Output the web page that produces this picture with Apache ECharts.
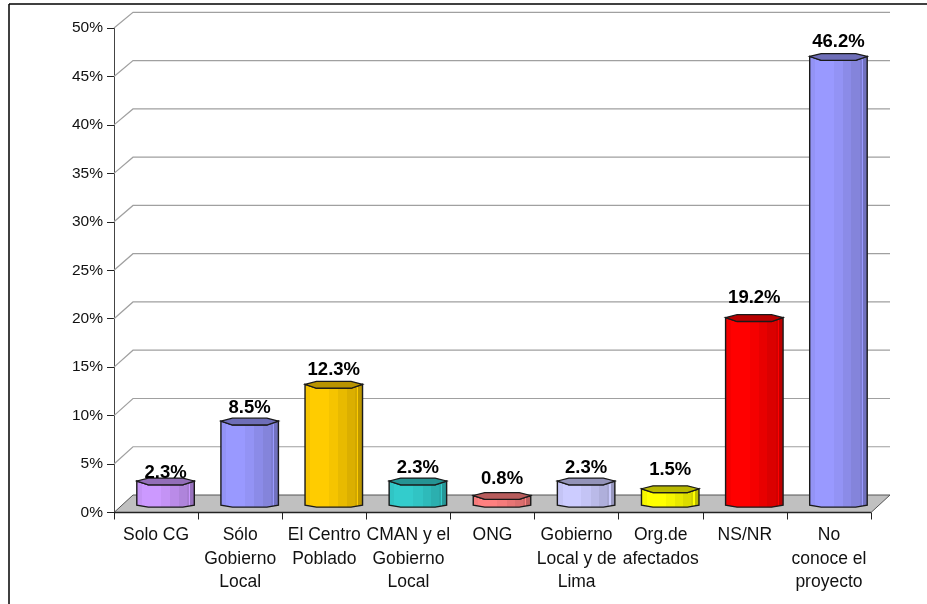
<!DOCTYPE html>
<html><head><meta charset="utf-8">
<style>html,body{margin:0;padding:0;background:#fff}#c{width:927px;height:604px}</style>
<script src="https://cdn.jsdelivr.net/npm/echarts@6/dist/echarts.min.js"></script>
</head><body><div id="c"></div>
<script>
const categories = ['Solo CG','Sólo\nGobierno\nLocal','El Centro\nPoblado','CMAN y el\nGobierno\nLocal','ONG','Gobierno\nLocal y de\nLima','Org.de\nafectados','NS/NR','No\nconoce el\nproyecto'];
const values = [2.3,8.5,12.3,2.3,0.8,2.3,1.5,19.2,46.2];
const barColors = ['#cc99ff','#9999ff','#ffcc00','#33cccc','#ff8080','#ccccff','#ffff00','#ff0000','#9999ff'];
const yTicks = [0,5,10,15,20,25,30,35,40,45,50];
const labelLift = [9,14,15,14,17,14,19,20,15];

const DX = 19, BW = 57.5;
const depth = v => 17.5 - 1.9 * v / 50;

function shade(hex, k){
  const n = parseInt(hex.slice(1),16);
  const f = c => Math.min(255,Math.round(c*k));
  return 'rgb('+f(n>>16&255)+','+f(n>>8&255)+','+f(n&255)+')';
}
function stripes(hex){
  const bands = [[0,.1,.96],[.1,.42,1],[.42,.58,.96],[.58,.72,.91],[.72,.86,.86],[.86,.895,.82],[.895,.915,1],[.915,1,.74]];
  const stops = [];
  bands.forEach(b=>{
    stops.push({offset:b[0],color:shade(hex,b[2])});
    stops.push({offset:b[1],color:shade(hex,b[2])});
  });
  return {type:'linear',x:0,y:0,x2:1,y2:0,colorStops:stops};
}

function renderWall(params, api){
  const cs = params.coordSys;
  const v = api.value(0);
  const y = api.coord([0, v])[1];
  const x0 = cs.x, x1 = cs.x + cs.width, d = depth(v);
  const children = [];
  if (v === 0) {
    children.push({type:'polygon',shape:{points:[[x0,y],[x1,y],[x1+DX,y-d],[x0+DX,y-d]]},
      style:{fill:'#c0c0c0',stroke:'#555',lineWidth:1}});
    children.push({type:'line',shape:{x1:x0,y1:y,x2:x1,y2:y},style:{stroke:'#222',lineWidth:1.5}});
  } else {
    children.push({type:'polyline',shape:{points:[[x0,y],[x0+DX,y-d],[x1+DX,y-d]]},
      style:{fill:null,stroke:'#a0a0a0',lineWidth:1.2}});
  }
  return {type:'group',children};
}

function renderBar(params, api){
  const i = api.value(0), v = api.value(1);
  const top = api.coord([i, v]), base = api.coord([i, 0]);
  const cx = top[0] + DX/2, yt = top[1] - depth(v)/2, yb = base[1] - depth(0)/2;
  const L = cx - BW/2, R = cx + BW/2, q = BW*0.2, h = 3.4;
  const col = barColors[i];
  const body = [[L,yt-.5],[L+q,yt+h],[R-q,yt+h],[R,yt-.5],[R,yb+1.5],[R-q,yb+h],[L+q,yb+h],[L,yb+1.5]];
  const cap = [[L,yt-.5],[L+q,yt-h],[R-q,yt-h],[R,yt-.5],[R-q,yt+h],[L+q,yt+h]];
  const label = v.toFixed(1)+'%';
  return {type:'group',children:[
    {type:'polygon',shape:{points:body},style:{fill:stripes(col),stroke:'#1a1a1a',lineWidth:1.4}},
    {type:'polygon',shape:{points:cap},style:{fill:shade(col,0.72),stroke:'#1a1a1a',lineWidth:1.2}},
    {type:'text',x:cx,y:yt-labelLift[i],style:{text:label,fill:'#000',font:'bold 18.5px "Liberation Sans", Arial, sans-serif',align:'center',verticalAlign:'middle'}}
  ]};
}

const chart = echarts.init(document.getElementById('c'),null,{renderer:'canvas'});
chart.setOption({
  animation:false,
  backgroundColor:'#fff',
  graphic:[
    {type:'line',shape:{x1:9,y1:4,x2:927,y2:4},style:{stroke:'#000',lineWidth:1.5},silent:true},
    {type:'line',shape:{x1:9,y1:4,x2:9,y2:604},style:{stroke:'#000',lineWidth:1.5},silent:true}
  ],
  grid:{left:114,top:28,width:757,height:484.5,containLabel:false},
  xAxis:{type:'category',data:categories,boundaryGap:true,
    axisLine:{show:true,lineStyle:{color:'#222',width:1}},
    axisTick:{show:true,length:7,alignWithLabel:false,lineStyle:{color:'#222'}},
    axisLabel:{interval:0,hideOverlap:false,color:'#111',fontFamily:'Liberation Sans',fontSize:17.5,lineHeight:23.5,margin:11},
    splitLine:{show:false}},
  yAxis:{type:'value',min:0,max:50,interval:5,
    axisLine:{show:true,lineStyle:{color:'#444',width:1}},
    axisTick:{show:true,length:7,lineStyle:{color:'#222'}},
    axisLabel:{formatter:'{value}%',color:'#111',fontFamily:'Liberation Sans',fontSize:15.5,margin:11},
    splitLine:{show:false}},
  series:[
    {type:'custom',name:'wall',coordinateSystem:'cartesian2d',z:1,silent:true,
     encode:{x:1,y:0},
     data:yTicks.map(t=>[t,0]),renderItem:renderWall},
    {type:'custom',name:'Porcentaje',coordinateSystem:'cartesian2d',z:3,
     encode:{x:0,y:1},clip:false,
     data:values.map((v,i)=>[i,v]),renderItem:renderBar}
  ]
});
</script></body></html>
